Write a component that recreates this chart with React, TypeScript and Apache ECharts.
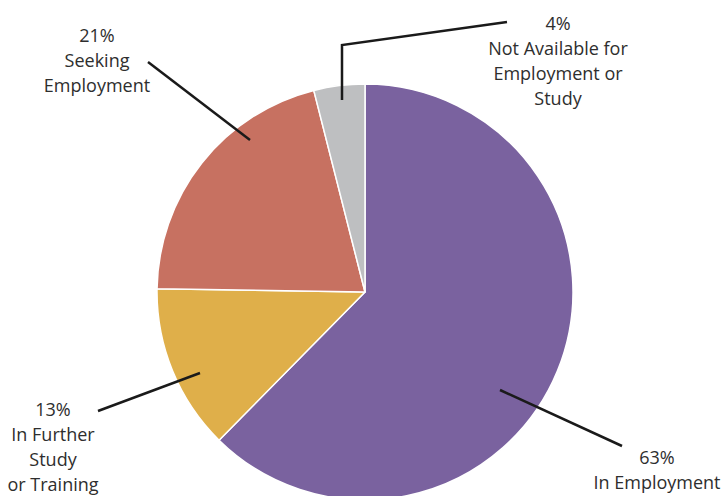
import React, { useEffect, useRef } from "react";
import * as echarts from "echarts";

const categories = ["In Employment", "In Further\nStudy\nor Training", "Seeking\nEmployment", "Not Available for\nEmployment or\nStudy"];
const values = [63, 13, 21, 4];
const colors = ["#7A629F", "#DFAF4A", "#C77161", "#BEBFC1"];

// label placement (center of text block) and leader line points
const labelPlaces = [
  { x: 657, y: 469, line: [[500, 390], [622, 446]] },
  { x: 53, y: 446, line: [[200, 373], [98, 411]] },
  { x: 97, y: 60, line: [[250, 140], [148, 62]] },
  { x: 558, y: 60, line: [[342, 100], [342, 45], [507, 22]] },
];

export default function App() {
  const ref = useRef<HTMLDivElement>(null);
  useEffect(() => {
    const chart = echarts.init(ref.current!, null, { renderer: "svg" });
    const data = categories.map((name, i) => ({
      name,
      value: values[i],
      itemStyle: { color: colors[i] },
    }));
    const common = {
      type: "pie",
      center: [365, 292],
      radius: 208,
      startAngle: 90,
      clockwise: true,
      emphasis: { disabled: true },
    };
    chart.setOption({
      animation: false,
      backgroundColor: "#ffffff",
      series: [
        {
          ...common,
          z: 2,
          data,
          itemStyle: { borderColor: "#ffffff", borderWidth: 1.5 },
          label: { show: false },
          labelLine: { show: false },
        },
        {
          ...common,
          z: 5,
          silent: true,
          data: data.map((d) => ({ ...d, itemStyle: { color: "rgba(0,0,0,0)" } })),
          itemStyle: { borderWidth: 0 },
          label: {
            show: true,
            formatter: (p: any) => `${p.value}%\n${p.name}`,
            fontFamily: "Open Sans",
            fontSize: 18,
            lineHeight: 25,
            color: "#2e2e2e",
            align: "center",
            overflow: "none",
            width: 200,
          },
          labelLine: {
            show: true,
            showAbove: true,
            lineStyle: { color: "#1a1a1a", width: 2.5 },
          },
          labelLayout: (params: any) => {
            const p = labelPlaces[params.dataIndex];
            return {
              x: p.x,
              y: p.y,
              align: "center",
              verticalAlign: "middle",
              labelLinePoints: p.line,
            };
          },
        },
      ],
    });
    return () => chart.dispose();
  }, []);
  return (
    <div
      ref={ref}
      style={{ position: "absolute", left: 0, top: 0, width: 726, height: 496 }}
    />
  );
}
